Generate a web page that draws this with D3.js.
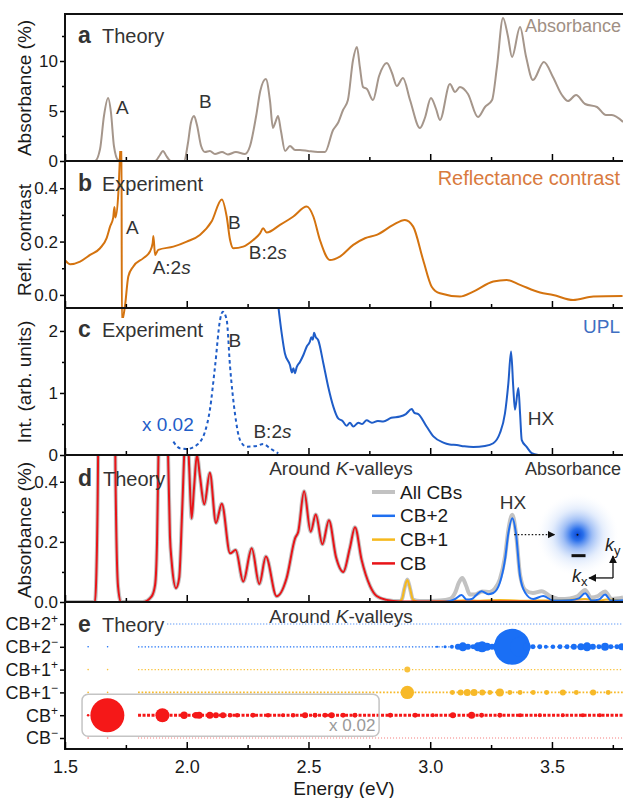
<!DOCTYPE html>
<html>
<head>
<meta charset="utf-8">
<script src="https://cdn.jsdelivr.net/npm/d3@7"></script>
<style>
  body { margin: 0; background: #fff; }
  svg text { font-family: "Liberation Sans", Arial, Helvetica, sans-serif; }
</style>
</head>
<body>
<div id="chart"></div>
<script>
// ---- data (energy in eV, value) ----
const energyMajor = [1.5, 2.0, 2.5, 3.0, 3.5];
const energyMinor = [1.75, 2.25, 2.75, 3.25, 3.75];

// a: theory absorbance (%)
const absTheory = [[1.500,0],[1.623,0],[1.644,1.2],[1.660,4.5],[1.677,6.3],[1.689,4.8],[1.701,1.5],[1.718,0.1],[1.734,0],[1.870,0],[1.890,0.6],[1.902,1.0],[1.919,0.4],[1.935,0],[1.989,0],[2.005,1.8],[2.017,3.8],[2.030,4.5],[2.042,3.6],[2.059,1.5],[2.075,0.9],[2.095,1.0],[2.116,0.7],[2.145,0.9],[2.169,0.65],[2.202,0.9],[2.239,0.7],[2.260,1.5],[2.285,4.5],[2.302,7.0],[2.325,8.2],[2.342,6.0],[2.354,3.3],[2.363,3.8],[2.375,4.5],[2.387,3.0],[2.404,1.0],[2.424,1.5],[2.445,1.1],[2.465,1.1],[2.498,1.0],[2.539,0.9],[2.568,0.9],[2.601,3.1],[2.621,3.8],[2.642,5.1],[2.662,6.1],[2.683,10.1],[2.699,11.4],[2.711,9.4],[2.724,7.4],[2.740,7.2],[2.765,6.1],[2.790,8.5],[2.822,9.8],[2.843,8.8],[2.863,7.5],[2.888,8.3],[2.917,6.1],[2.958,3.3],[2.978,4.3],[3.003,6.3],[3.024,5.2],[3.040,4.1],[3.081,7.7],[3.102,6.9],[3.122,7.4],[3.155,6.7],[3.196,4.4],[3.225,5.4],[3.254,6.1],[3.274,9.4],[3.299,14.3],[3.319,12.5],[3.336,10.4],[3.369,13.4],[3.393,10.5],[3.422,8.1],[3.467,9.9],[3.504,8.4],[3.541,6.6],[3.566,6.0],[3.599,6.6],[3.636,5.7],[3.685,5.4],[3.722,4.6],[3.746,4.6],[3.792,3.9]];

// b: reflectance contrast
const reflContrast = [[1.500,0.13],[1.521,0.115],[1.562,0.125],[1.603,0.15],[1.644,0.175],[1.671,0.213],[1.685,0.256],[1.698,0.29],[1.703,0.33],[1.707,0.29],[1.719,0.38],[1.726,0.52],[1.732,0.6],[1.7335,-0.1],[1.746,-0.044],[1.760,0.069],[1.780,0.106],[1.822,0.138],[1.849,0.163],[1.860,0.194],[1.863,0.221],[1.870,0.15],[1.883,0.169],[1.945,0.181],[2.000,0.2],[2.054,0.225],[2.102,0.275],[2.144,0.358],[2.164,0.294],[2.178,0.206],[2.191,0.175],[2.232,0.181],[2.273,0.206],[2.301,0.231],[2.314,0.25],[2.328,0.234],[2.383,0.2625],[2.438,0.294],[2.493,0.331],[2.520,0.294],[2.547,0.206],[2.588,0.131],[2.629,0.144],[2.684,0.1875],[2.732,0.2125],[2.780,0.225],[2.848,0.2625],[2.896,0.281],[2.930,0.256],[2.971,0.131],[3.006,0.031],[3.040,0.006],[3.122,-0.006],[3.177,0.0125],[3.259,0.05],[3.314,0.056],[3.369,0.0375],[3.451,0.009],[3.505,0.0],[3.587,-0.019],[3.670,-0.006],[3.790,-0.004]];

// c: UPL intensity, low-energy part scaled x0.02 (dashed) and the rest
const uplScaled = [[1.945,0.215],[1.972,0.108],[2.000,0.097],[2.041,0.16],[2.075,0.376],[2.095,0.726],[2.116,1.42],[2.137,2.18],[2.148,2.31],[2.164,2.18],[2.178,1.42],[2.198,0.67],[2.219,0.24],[2.246,0.134],[2.287,0.145],[2.314,0.177],[2.342,0.108],[2.376,0.027]];
const upl = [[2.376,2.40],[2.390,1.96],[2.403,1.64],[2.424,1.45],[2.432,1.33],[2.438,1.40],[2.444,1.32],[2.452,1.42],[2.465,1.50],[2.480,1.62],[2.493,1.75],[2.505,1.82],[2.512,1.90],[2.518,1.86],[2.523,1.97],[2.530,1.90],[2.540,1.85],[2.561,1.48],[2.581,1.10],[2.602,0.78],[2.622,0.59],[2.640,0.55],[2.657,0.47],[2.670,0.52],[2.684,0.46],[2.705,0.52],[2.720,0.50],[2.739,0.56],[2.760,0.52],[2.785,0.55],[2.807,0.54],[2.840,0.60],[2.876,0.62],[2.900,0.66],[2.924,0.74],[2.935,0.68],[2.951,0.66],[2.985,0.46],[3.013,0.30],[3.054,0.20],[3.080,0.17],[3.109,0.16],[3.140,0.14],[3.177,0.13],[3.225,0.145],[3.259,0.19],[3.286,0.35],[3.307,0.67],[3.321,1.16],[3.332,1.67],[3.341,1.10],[3.348,0.73],[3.362,1.08],[3.369,0.67],[3.376,0.24],[3.396,0.13],[3.417,0.03],[3.444,0.0]];

// d: absorbance around K valleys (%)
const cbAbs = [[1.500,0],[1.623,0],[1.629,0.1],[1.636,0.5],[1.648,3.0],[1.660,5.5],[1.672,6.3],[1.685,5.0],[1.697,2.0],[1.707,0.45],[1.718,0.05],[1.730,0],[1.820,0],[1.856,0.019],[1.870,0.057],[1.878,0.2],[1.884,0.5],[1.895,1.0],[1.903,1.2],[1.913,1.0],[1.923,0.5],[1.931,0.22],[1.938,0.135],[1.956,0.046],[1.969,0.08],[1.981,0.3],[1.993,0.55],[2.001,0.6],[2.010,0.45],[2.020,0.278],[2.030,0.38],[2.042,0.49],[2.054,0.42],[2.072,0.325],[2.095,0.43],[2.120,0.263],[2.144,0.327],[2.178,0.162],[2.201,0.173],[2.232,0.068],[2.267,0.179],[2.298,0.06],[2.325,0.151],[2.369,0.019],[2.410,0.079],[2.445,0.212],[2.458,0.234],[2.482,0.368],[2.509,0.234],[2.530,0.291],[2.557,0.192],[2.584,0.272],[2.613,0.15],[2.643,0.10],[2.670,0.18],[2.691,0.249],[2.718,0.141],[2.753,0.053],[2.780,0.02],[2.821,0.007],[2.876,0.002],[3.000,0.002],[3.792,0]];
const cb1Abs = [[1.500,0],[2.868,0],[2.884,0.01],[2.894,0.045],[2.906,0.073],[2.917,0.045],[2.929,0.008],[2.950,0],[3.081,0.003],[3.147,0.006],[3.204,0.004],[3.286,0.007],[3.369,0.004],[3.471,0.005],[3.553,0.006],[3.636,0.01],[3.689,0.004],[3.722,0.008],[3.792,0.003]];
const cb2Abs = [[1.500,0],[3.040,0],[3.081,0.003],[3.102,0.01],[3.129,0.023],[3.150,0.008],[3.171,0.01],[3.188,0.022],[3.211,0.036],[3.238,0.026],[3.259,0.03],[3.286,0.064],[3.307,0.14],[3.321,0.229],[3.337,0.279],[3.352,0.229],[3.369,0.086],[3.390,0.031],[3.423,0.01],[3.464,0.02],[3.505,0.005],[3.574,0.006],[3.611,0.012],[3.636,0.029],[3.663,0.005],[3.693,0.008],[3.718,0.025],[3.742,0.005],[3.792,0.006]];
const allCBsHigh = [[2.821,0.007],[2.876,0.003],[2.884,0.01],[2.894,0.045],[2.906,0.075],[2.917,0.045],[2.929,0.008],[2.958,0.003],[3.040,0.005],[3.081,0.01],[3.102,0.03],[3.118,0.065],[3.132,0.08],[3.147,0.055],[3.163,0.025],[3.184,0.025],[3.213,0.035],[3.245,0.033],[3.266,0.045],[3.286,0.075],[3.307,0.15],[3.321,0.24],[3.337,0.29],[3.352,0.23],[3.369,0.09],[3.390,0.04],[3.422,0.03],[3.458,0.036],[3.492,0.02],[3.533,0.01],[3.574,0.012],[3.607,0.02],[3.636,0.04],[3.661,0.015],[3.689,0.02],[3.718,0.035],[3.746,0.01],[3.792,0.015]];
const allCBs = cbAbs.filter(d => d[0] < 2.8).concat(allCBsHigh);

// e: exciton weights per band (energy, relative oscillator strength)
const bandNames = ["CB+2", "CB+2", "CB+1", "CB+1", "CB", "CB"];
const bandSpins = ["+", "\u2212", "+", "\u2212", "+", "\u2212"];
const bandStart = [1.92, 1.80, 1.80, 1.80, 1.80, 1.80];
const loneStates = [1.595, 1.675];
const dotsCB2m = [[3.028,0.004],[3.061,0.007],[3.089,0.012],[3.114,0.028],[3.134,0.062],[3.155,0.028],[3.176,0.019],[3.196,0.062],[3.213,0.093],[3.233,0.049],[3.254,0.028],[3.274,0.049],[3.303,0.31],[3.336,1.0],[3.369,0.31],[3.397,0.049],[3.422,0.019],[3.450,0.019],[3.475,0.012],[3.504,0.015],[3.533,0.019],[3.562,0.019],[3.590,0.028],[3.619,0.038],[3.644,0.062],[3.668,0.028],[3.693,0.019],[3.718,0.049],[3.742,0.019],[3.767,0.019],[3.787,0.038]];
const dotsCB1p = [[2.906,0.028]];
const dotsCB1m = [[2.906,0.139],[3.091,0.019],[3.125,0.028],[3.152,0.038],[3.180,0.038],[3.214,0.028],[3.245,0.019],[3.286,0.049],[3.327,0.019],[3.369,0.019],[3.423,0.019],[3.478,0.019],[3.545,0.028],[3.600,0.019],[3.669,0.028],[3.731,0.019]];
const dotsCBp = [[1.674,0.89],[1.900,0.151],[1.989,0.042],[2.038,0.034],[2.051,0.038],[2.095,0.038],[2.120,0.028],[2.149,0.028],[2.178,0.016],[2.207,0.016],[2.272,0.019],[2.334,0.016],[2.395,0.012],[2.437,0.015],[2.486,0.028],[2.527,0.019],[2.568,0.019],[2.595,0.028],[2.642,0.019],[2.691,0.019],[2.836,0.019],[2.938,0.019],[3.011,0.012],[3.093,0.028],[3.170,0.038],[3.211,0.019],[3.286,0.019],[3.369,0.012],[3.450,0.012],[3.545,0.012],[3.627,0.012],[3.697,0.012]];

// ---- layout ----
const W = 623, H = 798;
const L = 65, R = 625;
const panelH = 147;
const tops = [14, 161, 308, 455, 602];
const FONT = '"Liberation Sans", Arial, Helvetica, sans-serif';

const svg = d3.select("#chart").append("svg").attr("width", W).attr("height", H);
const defs = svg.append("defs");

const x = d3.scaleLinear().domain([1.5, 3.8]).range([L, R]);

function panelY(i, domain) {
  return d3.scaleLinear().domain(domain).range([tops[i] + panelH, tops[i]]);
}

function clipFor(i, pad) {
  const id = "clip" + i;
  defs.append("clipPath").attr("id", id)
    .append("rect").attr("x", L).attr("y", tops[i] - pad)
    .attr("width", R - L).attr("height", panelH + 2 * pad);
  return `url(#${id})`;
}

function drawLine(data, y, color, width, clip, dash) {
  const fn = d3.line().x(d => x(d[0])).y(d => y(d[1])).curve(d3.curveMonotoneX);
  const p = svg.append("path").datum(data)
    .attr("d", fn).attr("fill", "none")
    .attr("stroke", color).attr("stroke-width", width)
    .attr("stroke-linejoin", "round")
    .attr("clip-path", clip);
  if (dash) p.attr("stroke-dasharray", dash);
  return p;
}

function yAxis(y, major, minor, fmt) {
  svg.append("g").attr("transform", `translate(${L},0)`)
    .call(d3.axisLeft(y).tickValues(major).tickSize(5).tickPadding(2).tickFormat(fmt))
    .call(g => g.select(".domain").remove())
    .call(g => g.selectAll("line").attr("stroke-width", 1.5))
    .attr("font-size", 17).attr("font-family", FONT)
    .call(g => g.selectAll("text").attr("fill", "#1a1a1a"));
  svg.append("g").attr("transform", `translate(${L},0)`)
    .call(d3.axisLeft(y).tickValues(minor).tickSize(3).tickFormat(""))
    .call(g => g.select(".domain").remove())
    .call(g => g.selectAll("line").attr("stroke-width", 1.5));
}

function xTicks(i, withLabels) {
  const yb = tops[i] + panelH;
  const g = svg.append("g").attr("transform", `translate(0,${yb})`)
    .call(d3.axisBottom(x).tickValues(energyMajor).tickSize(-7).tickPadding(11)
      .tickFormat(withLabels ? d3.format(".1f") : ""))
    .call(g => g.select(".domain").remove())
    .call(g => g.selectAll("line").attr("stroke-width", 1.5))
    .attr("font-size", 18).attr("font-family", FONT);
  g.selectAll("text").attr("fill", "#1a1a1a");
  svg.append("g").attr("transform", `translate(0,${yb})`)
    .call(d3.axisBottom(x).tickValues(energyMinor).tickSize(-4).tickFormat(""))
    .call(g => g.select(".domain").remove())
    .call(g => g.selectAll("line").attr("stroke-width", 1.5));
}

function yTitle(text, cy) {
  svg.append("text").attr("transform", `translate(31,${cy}) rotate(-90)`)
    .attr("text-anchor", "middle").attr("font-size", 19).attr("fill", "#1a1a1a")
    .text(text);
}

function panelTag(i, letter, word, dy, wordX) {
  const t = svg.append("text").attr("x", 78).attr("y", tops[i] + dy)
    .attr("font-size", 20).attr("fill", "#333");
  t.append("tspan").attr("font-weight", "bold").attr("font-size", 23).text(letter);
  svg.append("text").attr("x", wordX || 102).attr("y", tops[i] + dy)
    .attr("font-size", 20).attr("fill", "#333").text(word);
}

function label(txt, px, py, opts = {}) {
  const t = svg.append("text").attr("x", px).attr("y", py)
    .attr("font-size", opts.size || 19).attr("fill", opts.color || "#333")
    .attr("text-anchor", opts.anchor || "start");
  if (opts.italicTail) {
    t.append("tspan").text(txt);
    t.append("tspan").attr("font-style", "italic").text(opts.italicTail);
  } else t.text(txt);
  return t;
}

// ---- panel a ----
const yA = panelY(0, [0, 14.7]);
drawLine(absTheory, yA, "#a5968b", 2, clipFor(0, 0));
yAxis(yA, [0, 5, 10], [2.5, 7.5, 12.5], d3.format("d"));
yTitle("Absorbance (%)", 88);
panelTag(0, "a", "Theory", 29);
label("Absorbance", 621, tops[0] + 18, { anchor: "end", color: "#a08f84", size: 18 });
label("A", x(1.709), yA(4.7));
label("B", x(2.050), yA(5.3));

// ---- panel b ----
const yB = panelY(1, [-0.049, 0.502]);
drawLine(reflContrast, yB, "#d4730f", 2, clipFor(1, 10));
yAxis(yB, [0, 0.2, 0.4], [0.1, 0.3], d3.format(".1f"));
yTitle("Refl. contrast", 240);
panelTag(1, "b", "Experiment", 30);
label("Reflectance contrast", 620, tops[1] + 24, { anchor: "end", color: "#d97a3e", size: 20 });
label("A", x(1.751), yB(0.228));
label("A:2", x(1.860), yB(0.08), { italicTail: "s" });
label("B", x(2.169), yB(0.248));
label("B:2", x(2.255), yB(0.135), { italicTail: "s" });

// ---- panel c ----
const yC = panelY(2, [0, 2.37]);
const clipC = clipFor(2, 0);
drawLine(uplScaled, yC, "#1f5dc8", 2, clipC, "3.5,3");
drawLine(upl, yC, "#1f5dc8", 2, clipC);
yAxis(yC, [0, 1, 2], [0.5, 1.5], d3.format("d"));
yTitle("Int. (arb. units)", 382);
panelTag(2, "c", "Experiment", 29);
label("UPL", 620, tops[2] + 25, { anchor: "end", color: "#3f6fc2" });
label("B", x(2.172), yC(1.74));
label("x 0.02", x(1.816), yC(0.39), { color: "#1f5dc8" });
label("B:2", x(2.274), yC(0.27), { italicTail: "s" });
label("HX", x(3.401), yC(0.48));

// ---- panel d ----
const yD = panelY(3, [0, 0.489]);
const clipD = clipFor(3, 0);
drawLine(allCBs, yD, "#c2c2c2", 4, clipD);
drawLine(cb1Abs, yD, "#f6b91c", 2, clipD);
drawLine(cbAbs, yD, "#e81418", 2, clipD);
drawLine(cb2Abs, yD, "#1f6ff0", 2, clipD);
yAxis(yD, [0, 0.2, 0.4], [0.1, 0.3], d3.format(".1f"));
yTitle("Absorbance (%)", 530);
panelTag(3, "d", "Theory", 31, 103);

const kv = label("Around ", 341, tops[3] + 20, { anchor: "middle" });
kv.append("tspan").attr("font-style", "italic").text("K");
kv.append("tspan").text("-valleys");
label("Absorbance", 621, tops[3] + 20, { anchor: "end", size: 18 });

const legendItems = [["All CBs", "#c2c2c2", 4], ["CB+2", "#1f6ff0", 2.5], ["CB+1", "#f6b91c", 2.5], ["CB", "#e81418", 2.5]];
legendItems.forEach((d, k) => {
  const ly = 492 + k * 23.8;
  svg.append("line").attr("x1", 372).attr("x2", 395).attr("y1", ly).attr("y2", ly)
    .attr("stroke", d[1]).attr("stroke-width", d[2]);
  svg.append("text").attr("x", 400).attr("y", ly).attr("dy", "0.35em")
    .attr("font-size", 19).attr("fill", "#1a1a1a").text(d[0]);
});
label("HX", x(3.34), yD(0.31), { anchor: "middle" });

// inset: exciton wavefunction in k-space
const grad = defs.append("radialGradient").attr("id", "blob");
[[0, "#0a48d6", 1], [0.14, "#1f68ea", 0.95], [0.35, "#5f93ef", 0.6], [0.62, "#a9c6f6", 0.3], [0.85, "#d6e4fb", 0.12], [1, "#ffffff", 0]]
  .forEach(s => grad.append("stop").attr("offset", s[0]).attr("stop-color", s[1]).attr("stop-opacity", s[2]));
const ix = x(3.605), iy = yD(0.224);
svg.append("circle").attr("cx", ix).attr("cy", iy).attr("r", 42).attr("fill", "url(#blob)");
svg.append("circle").attr("cx", ix).attr("cy", iy).attr("r", 1).attr("fill", "#111");
svg.append("line").attr("x1", ix - 6).attr("x2", ix + 8).attr("y1", iy + 21).attr("y2", iy + 21)
  .attr("stroke", "#111").attr("stroke-width", 3);

defs.append("marker").attr("id", "arrow").attr("viewBox", "0 0 10 10").attr("refX", 9).attr("refY", 5)
  .attr("markerWidth", 6).attr("markerHeight", 6).attr("orient", "auto-start-reverse")
  .append("path").attr("d", "M0,0 L10,5 L0,10 z").attr("fill", "#111");
svg.append("line").attr("x1", x(3.345)).attr("x2", x(3.51)).attr("y1", iy).attr("y2", iy)
  .attr("stroke", "#111").attr("stroke-width", 1.2).attr("stroke-dasharray", "1.5,2")
  .attr("marker-end", "url(#arrow)");

const ax0 = 613, ay0 = yD(0.08);
svg.append("line").attr("x1", ax0).attr("x2", ax0).attr("y1", ay0).attr("y2", ay0 - 22)
  .attr("stroke", "#111").attr("stroke-width", 1.3).attr("marker-end", "url(#arrow)");
svg.append("line").attr("x1", ax0).attr("x2", ax0 - 24).attr("y1", ay0).attr("y2", ay0)
  .attr("stroke", "#111").attr("stroke-width", 1.3).attr("marker-end", "url(#arrow)");
const ky = svg.append("text").attr("x", 605).attr("y", ay0 - 27).attr("font-size", 18).attr("fill", "#222");
ky.append("tspan").attr("font-style", "italic").text("k");
ky.append("tspan").attr("font-size", 13).attr("dy", 4).text("y");
const kx = svg.append("text").attr("x", 572).attr("y", ay0 + 4).attr("font-size", 18).attr("fill", "#222");
kx.append("tspan").attr("font-style", "italic").text("k");
kx.append("tspan").attr("font-size", 13).attr("dy", 4).text("x");

// ---- panel e ----
const rowKeys = d3.range(bandNames.length);
const yE = d3.scalePoint().domain(rowKeys).range([tops[4] + 22, tops[4] + 136]);
const rowColors = ["#2f7bf5", "#1a6ff5", "#f9c23c", "#f7b928", "#f51818", "#f47a7a"];
const rowDash = [[1, "1,2"], [1.3, "1.3,2"], [1.3, "1.3,2"], [1.7, "1.7,1.8"], [3, "3,1.5"], [1, "1,2"]];
const r = d3.scaleSqrt().domain([0, 1]).range([0, 18]);
const clipE = clipFor(4, 0);

rowKeys.forEach(k => {
  svg.append("line").attr("x1", x(bandStart[k])).attr("x2", R)
    .attr("y1", yE(k)).attr("y2", yE(k))
    .attr("stroke", rowColors[k]).attr("stroke-width", rowDash[k][0])
    .attr("stroke-dasharray", rowDash[k][1]).attr("clip-path", clipE);
  if (k > 0) {
    svg.selectAll(null).data(loneStates).join("circle")
      .attr("cx", d => x(d)).attr("cy", yE(k)).attr("r", k === 4 ? 1.3 : 0.8)
      .attr("fill", rowColors[k]);
  }
});

function drawDots(data, k, color) {
  svg.append("g").attr("clip-path", clipE).selectAll("circle").data(data).join("circle")
    .attr("cx", d => x(d[0])).attr("cy", yE(k)).attr("r", d => r(d[1]))
    .attr("fill", color);
}
drawDots(dotsCB2m, 1, "#1a6ff5");
drawDots(dotsCB1p, 2, "#f9c23c");
drawDots(dotsCB1m, 3, "#f7b928");
drawDots(dotsCBp, 4, "#f51818");

// x 0.02 box around the CB+ row
svg.append("rect").attr("x", x(1.57)).attr("y", yE(4) - 21).attr("width", x(2.79) - x(1.57)).attr("height", 42)
  .attr("rx", 6).attr("fill", "none").attr("stroke", "#c4c4c4").attr("stroke-width", 1.5);
label("x 0.02", x(2.775), yE(4) + 16, { anchor: "end", color: "#9a9a9a", size: 17 });

// band axis labels
svg.append("g").attr("transform", `translate(${L},0)`)
  .call(d3.axisLeft(yE).tickSize(5).tickFormat(""))
  .call(g => g.select(".domain").remove())
  .call(g => g.selectAll("line").attr("stroke-width", 1.5));
rowKeys.forEach(k => {
  const t = svg.append("text").attr("x", 58).attr("y", yE(k)).attr("dy", "0.36em")
    .attr("text-anchor", "end").attr("font-size", 18).attr("fill", "#1a1a1a");
  t.append("tspan").text(bandNames[k]);
  t.append("tspan").attr("font-size", 12).attr("dy", -7).text(bandSpins[k]);
});
panelTag(4, "e", "Theory", 30);
const kv2 = label("Around ", 341, tops[4] + 21, { anchor: "middle" });
kv2.append("tspan").attr("font-style", "italic").text("K");
kv2.append("tspan").text("-valleys");

// ---- frames & ticks ----
tops.forEach((t, i) => {
  svg.append("rect").attr("x", L).attr("y", t).attr("width", R - L).attr("height", panelH)
    .attr("fill", "none").attr("stroke", "#111").attr("stroke-width", 2);
  xTicks(i, i === 4);
});

svg.append("text").attr("x", 344).attr("y", 795).attr("text-anchor", "middle")
  .attr("font-size", 19).attr("fill", "#1a1a1a").text("Energy (eV)");
</script>
</body>
</html>
